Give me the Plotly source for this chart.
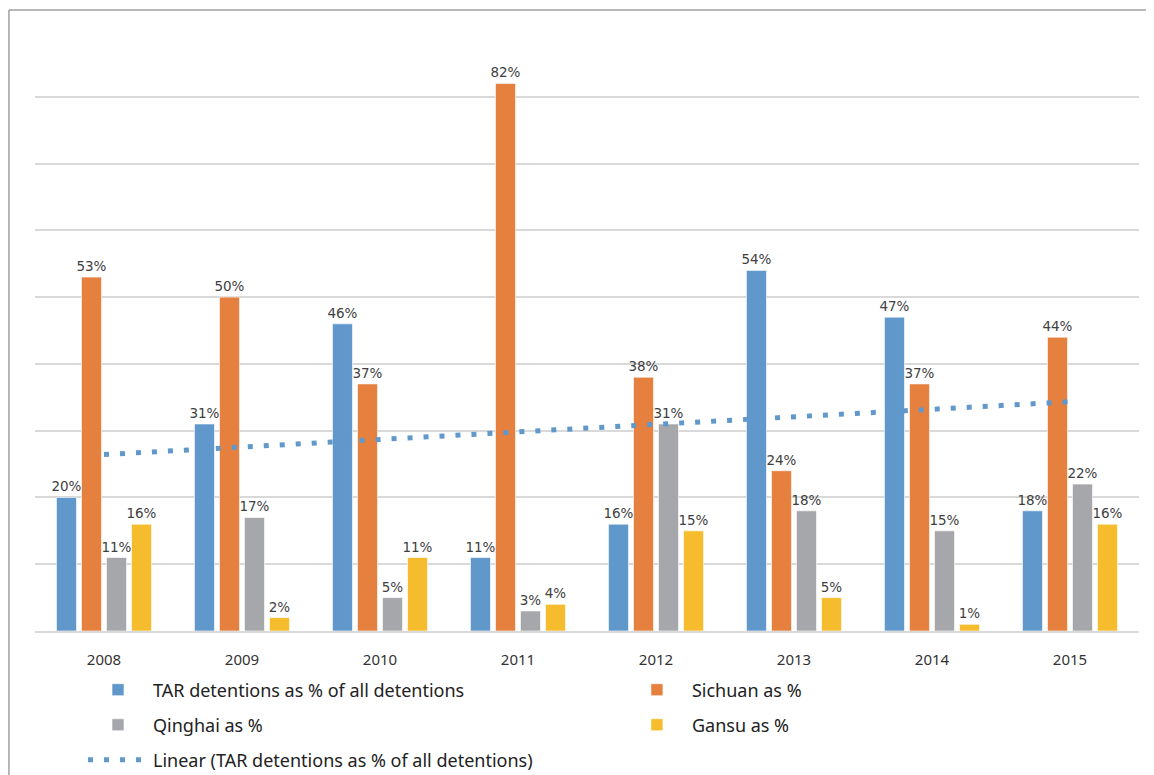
import numpy as np
import plotly.graph_objects as go

years = ["2008", "2009", "2010", "2011", "2012", "2013", "2014", "2015"]
tar = [20, 31, 46, 11, 16, 54, 47, 18]
sichuan = [53, 50, 37, 82, 38, 24, 37, 44]
qinghai = [11, 17, 5, 3, 31, 18, 15, 22]
gansu = [16, 2, 11, 4, 15, 5, 1, 16]

series = [
    ("TAR detentions as % of all detentions", tar, "#6198CB", "legend"),
    ("Sichuan as %", sichuan, "#E6803F", "legend2"),
    ("Qinghai as %", qinghai, "#A6A7AA", "legend3"),
    ("Gansu as %", gansu, "#F5BD2D", "legend4"),
]

# linear trendline fitted to the TAR series (Excel "Linear" trendline)
xi = np.arange(1, len(tar) + 1)
slope, intercept = np.polyfit(xi, tar, 1)
trend = slope * xi + intercept

fig = go.Figure()
for name, vals, col, lg in series:
    fig.add_trace(go.Bar(
        x=years, y=vals, name=name, legend=lg,
        marker=dict(color=col, line=dict(color="rgba(255,255,255,0.6)", width=1)),
        text=[f"{v}%" for v in vals], textposition="outside",
        constraintext="none",
        textfont=dict(family="DejaVu Sans", size=13.5, color="#404040"),
        cliponaxis=False, hoverinfo="x+y",
    ))

fig.add_trace(go.Scatter(
    x=years, y=trend, mode="lines", legend="legend5",
    name="Linear (TAR detentions as % of all detentions)",
    line=dict(color="#6198CB", width=5, dash="5px,11px"),
    hoverinfo="skip",
))

# outer frame (left and top edges)
fig.add_shape(type="line", xref="paper", yref="paper",
              x0=-0.0236, x1=1.03, y0=1.0333, y1=1.0333,
              line=dict(color="#A0A0A0", width=1.5))
fig.add_shape(type="line", xref="paper", yref="paper",
              x0=-0.0236, x1=-0.0236, y0=1.0333, y1=-0.3,
              line=dict(color="#A0A0A0", width=1.5))

leg_common = dict(
    orientation="v", xanchor="left", yanchor="middle",
    xref="container", yref="container",
    font=dict(family="Noto Sans", size=18, color="#222222"),
    itemwidth=60, bgcolor="rgba(0,0,0,0)",
)
col1, col2 = 0.065, 0.532
row1, row2, row3 = 0.1200, 0.0748, 0.0297

fig.update_layout(
    width=1154, height=775,
    margin=dict(l=27, r=23, t=22, b=152, autoexpand=False),
    paper_bgcolor="white", plot_bgcolor="white",
    barmode="group", bargap=0.275, bargroupgap=0.2,
    showlegend=True,
    legend=dict(leg_common, x=col1, y=row1),
    legend2=dict(leg_common, x=col2, y=row1),
    legend3=dict(leg_common, x=col1, y=row2),
    legend4=dict(leg_common, x=col2, y=row2),
    legend5=dict(leg_common, x=col1, y=row3),
    xaxis=dict(
        type="category", showgrid=False, showline=True,
        linecolor="#D9D9D9", linewidth=2,
        ticks="outside", ticklen=14, tickcolor="rgba(0,0,0,0)",
        tickfont=dict(family="Noto Sans", size=15, color="#333333"),
    ),
    yaxis=dict(
        range=[0, 90], dtick=10, showticklabels=False,
        showgrid=True, gridcolor="#D9D9D9", gridwidth=1.5,
        zeroline=False, showline=False, ticks="",
    ),
)

fig.write_html("out.html")
